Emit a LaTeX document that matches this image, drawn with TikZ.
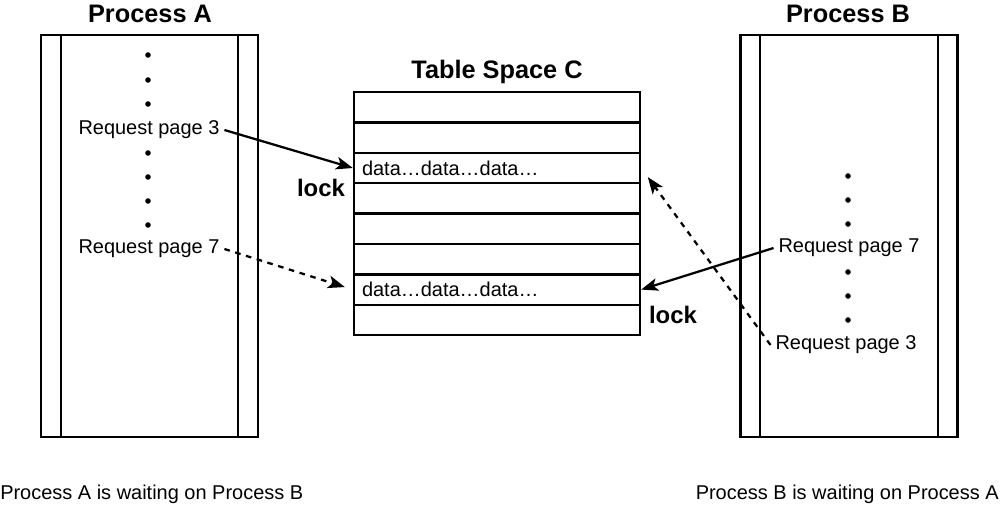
\documentclass[tikz,border=0pt]{standalone}
\usepackage{fontspec}
\setmainfont{Liberation Sans}
\usetikzlibrary{arrows.meta, calc, positioning}

\begin{document}
\begin{tikzpicture}[x=0.025cm, y=-0.025cm,
    proc/.style={draw, line width=1.6pt, minimum width=5.425cm, minimum height=10.05cm, inner sep=0pt},
    tblrow/.style={draw, line width=1.6pt, minimum width=7.15cm, minimum height=0.76cm, inner sep=0pt},
    title/.style={font=\fontsize{18}{20}\selectfont\bfseries},
    lockword/.style={font=\fontsize{17}{20}\selectfont\bfseries},
    txt/.style={font=\fontsize{14.2}{16}\selectfont},
    req/.style={-{Stealth[length=12pt, width=9pt, inset=3pt]}, line width=1.6pt},
    wait/.style={req, dashed, dash pattern=on 4pt off 4pt}]
            \useasboundingbox (0,0) rectangle (1000,506);

            % process columns
            \node[proc] (procA) at (149.5,236) {};
            \node[proc] (procB) at (849,236) {};
            \foreach \p in {procA, procB} {
                \draw[line width=1.6pt] ($(\p.north west)+(21,0)$) -- ($(\p.south west)+(21,0)$);
                \draw[line width=1.6pt] ($(\p.north east)+(-21,0)$) -- ($(\p.south east)+(-21,0)$);
            }
            \node[title] (titleA) at (150,14) {Process A};
            \node[title] (titleB) at (848,14) {Process B};

            % table space rows
            \foreach \i in {1,...,8}
                \node[tblrow] (row\i) at (497,{92+30.4*(\i-0.5)}) {};
            \node[title] (titleC) at (497,72) {Table Space C};
            \node[txt, anchor=west, xshift=3] (data3) at (row3.west) {data…data…data…};
            \node[txt, anchor=west, xshift=3] (data7) at (row7.west) {data…data…data…};
            \node[lockword] (lockA) at (321,188) {lock};
            \node[lockword] (lockB) at (673,315) {lock};

            % dots and requests, process A
            \foreach \y in {55,80,104,153,177,201,225}
                \fill (148,\y) circle (2.8);
            \node[txt] (reqA3) at (149,130) {Request page 3};
            \node[txt] (reqA7) at (149,249) {Request page 7};

            % dots and requests, process B
            \foreach \y in {176,200,224,272,296,320}
                \fill (848,\y) circle (2.8);
            \node[txt] (reqB7) at (849,248) {Request page 7};
            \node[txt] (reqB3) at (846,345) {Request page 3};

            % requests
            \draw[req] (reqA3.east) -- (row3.west);
            \draw[wait, shorten >=6] (reqA7.east) -- (row7.west);
            \draw[req] (reqB7.west) -- (row7.east);
            \draw[wait, shorten >=8] (reqB3.west) -- (row3.east);

            % captions
            \node[txt, anchor=west, inner sep=0pt] (capA) at (0,494) {Process A is waiting on Process B};
            \node[txt, anchor=east, inner sep=0pt] (capB) at (999,494) {Process B is waiting on Process A};
        \end{tikzpicture}
\end{document}
